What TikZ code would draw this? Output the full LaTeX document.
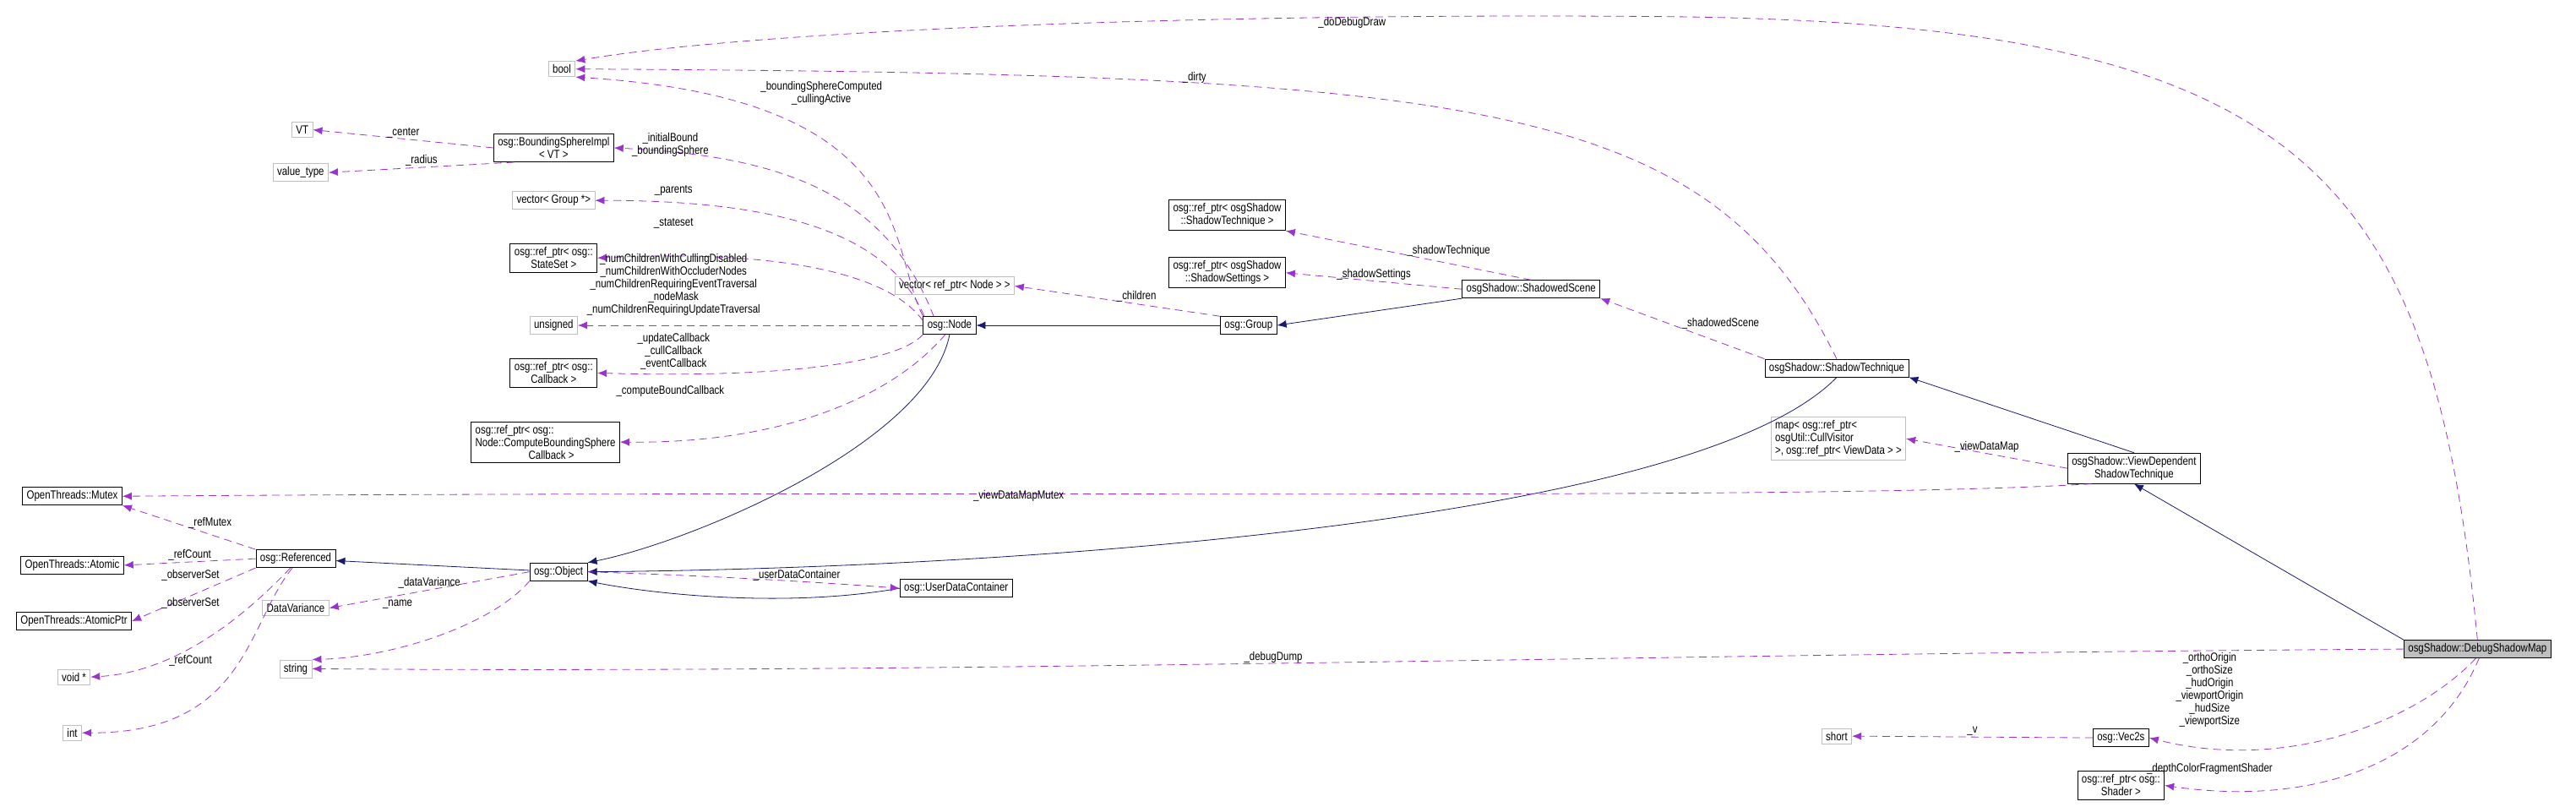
\documentclass[tikz,border=0pt]{standalone}
\usepackage{fontspec}
\setmainfont[FakeStretch=0.82]{Liberation Sans}
\usetikzlibrary{arrows.meta}
\definecolor{dep}{HTML}{9A32CD}
\definecolor{inh}{HTML}{191970}
\definecolor{gb}{HTML}{BFBFBF}
\begin{document}
\begin{tikzpicture}[x=1.945pt,y=-1.945pt,
  box/.style={draw=black,thick,font=\fontsize{14}{15}\selectfont,inner xsep=5pt,inner ysep=4pt,align=center,fill=white},
  gbox/.style={box,draw=gb},
  lab/.style={font=\fontsize{14}{15}\selectfont,align=center,inner sep=1pt},
  dp/.style={draw=dep,thick,dash pattern=on 9pt off 6pt,-{Latex[length=11pt,width=9pt]}},
  ih/.style={draw=inh,thick,-{Latex[length=11pt,width=9pt]}}]
\useasboundingbox (0,0) rectangle (1568,491);
% nodes
\node[gbox] (bool) at (342,42) {bool};
\node[gbox] (vt) at (184,79) {VT};
\node[gbox] (vtype) at (183,105) {value\_type};
\node[box] (bsi) at (337,90) {osg::BoundingSphereImpl\\< VT >};
\node[gbox] (vg) at (337,122) {vector< Group *>};
\node[box] (ss) at (337,157) {osg::ref\_ptr< osg::\\StateSet >};
\node[gbox] (uns) at (337,198) {unsigned};
\node[box] (cb) at (337,227) {osg::ref\_ptr< osg::\\Callback >};
\node[box,align=left] (cbs) at (332,269) {osg::ref\_ptr< osg::\\Node::ComputeBoundingSphere\\\hspace*{4.5em}Callback >};
\node[box] (mutex) at (44,302) {OpenThreads::Mutex};
\node[box] (atomic) at (44,344) {OpenThreads::Atomic};
\node[box] (aptr) at (45,378) {OpenThreads::AtomicPtr};
\node[gbox] (void) at (45,412) {void *};
\node[gbox] (int) at (44,446) {int};
\node[box] (ref) at (180,340) {osg::Referenced};
\node[gbox] (dv) at (180,370) {DataVariance};
\node[gbox] (str) at (180,407) {string};
\node[box] (obj) at (340,348) {osg::Object};
\node[box] (udc) at (582,358) {osg::UserDataContainer};
\node[box] (node) at (578,198) {osg::Node};
\node[gbox] (vn) at (581,174) {vector< ref\_ptr< Node > >};
\node[box] (grp) at (760,198) {osg::Group};
\node[box] (str1) at (747,131) {osg::ref\_ptr< osgShadow\\::ShadowTechnique >};
\node[box] (sset) at (747,166) {osg::ref\_ptr< osgShadow\\::ShadowSettings >};
\node[box] (ssc) at (932,176) {osgShadow::ShadowedScene};
\node[box] (st) at (1118,224) {osgShadow::ShadowTechnique};
\node[gbox,align=left] (map) at (1119,267) {map< osg::ref\_ptr<\\ osgUtil::CullVisitor\\>, osg::ref\_ptr< ViewData > >};
\node[box] (vd) at (1299,285) {osgShadow::ViewDependent\\ShadowTechnique};
\node[box,fill=gb] (dsm) at (1508,395) {osgShadow::DebugShadowMap};
\node[gbox] (short) at (1118,448) {short};
\node[box] (vec) at (1291,449) {osg::Vec2s};
\node[box] (shd) at (1291,478) {osg::ref\_ptr< osg::\\Shader >};
% inheritance
\draw[ih] (obj) -- (ref);
\draw[ih] (node.south) .. controls (565,270) and (420,330) .. (obj.north east);
\draw[ih] (udc.west) .. controls (480,370) and (400,362) .. (obj.south east);
\draw[ih] (grp) -- (node);
\draw[ih] (ssc.south west) -- (grp.east);
\draw[ih] (st.south) .. controls (1030,320) and (600,346) .. (obj.east);
\draw[ih] (vd.north) -- (st.south east);
\draw[ih] (dsm.north west) -- (vd.south);
% dependencies
\draw[dp] (bsi.west) -- node[lab,above]{\_center} (vt.east);
\draw[dp] (bsi.200) -- node[lab,above]{\_radius} (vtype.east);
\draw[dp] (node.north west) .. controls (540,150) and (560,60) .. (bool.south east);
\node[lab] (l1) at (500,57) {\_boundingSphereComputed\\\_cullingActive};
\draw[dp] (node.150) .. controls (540,120) and (480,95) .. (bsi.east);
\node[lab] (l2) at (408,88) {\_initialBound\\\_boundingSphere};
\draw[dp] (node.160) .. controls (540,140) and (470,122) .. (vg.east);
\node[lab] (l3) at (410,116) {\_parents};
\draw[dp] (node.170) .. controls (540,165) and (470,152) .. (ss.east);
\node[lab] (l4) at (410,136) {\_stateset};
\draw[dp] (node.west) -- (uns.east);
\node[lab] (l5) at (410,173) {\_numChildrenWithCullingDisabled\\\_numChildrenWithOccluderNodes\\\_numChildrenRequiringEventTraversal\\\_nodeMask\\\_numChildrenRequiringUpdateTraversal};
\draw[dp] (node.south west) .. controls (545,222) and (470,230) .. (cb.east);
\node[lab] (l6) at (410,214) {\_updateCallback\\\_cullCallback\\\_eventCallback};
\draw[dp] (node.-115) .. controls (540,245) and (470,270) .. (cbs.east);
\node[lab] (l7) at (408,238) {\_computeBoundCallback};
\draw[dp] (grp.north west) -- node[lab,above right=-2pt]{\_children} (vn.east);
\draw[dp] (ssc.north) -- node[lab,above right=-3pt]{\_shadowTechnique} (str1.south east);
\draw[dp] (ssc.west) -- node[lab,above]{\_shadowSettings} (sset.east);
\draw[dp] (st.north west) -- node[lab,above right=-2pt]{\_shadowedScene} (ssc.south east);
\draw[dp] (st.north) .. controls (1040,60) and (900,45) .. (bool.east);
\node[lab] (l8) at (727,47) {\_dirty};
\draw[dp] (dsm.north) .. controls (1480,100) and (1400,12) .. (1000,10) .. controls (700,8) and (450,20) .. (bool.north east);
\node[lab] (l9) at (823,14) {\_doDebugDraw};
\draw[dp] (vd.west) -- node[lab,above]{\_viewDataMap} (map.east);
\draw[dp] (vd.200) .. controls (1100,305) and (600,298) .. (mutex.east);
\node[lab] (l10) at (620,302) {\_viewDataMapMutex};
\draw[dp] (ref.north west) -- node[lab,above right=-2pt]{\_refMutex} (mutex.south east);
\draw[dp] (ref.west) -- node[lab,above]{\_refCount} (atomic.east);
\draw[dp] (ref.south west) -- (aptr.east);
\node[lab] (l11) at (116,350) {\_observerSet};
\draw[dp] (ref.-120) .. controls (130,395) and (90,410) .. (void.east);
\node[lab] (l12) at (116,367) {\_observerSet};
\draw[dp] (ref.-110) .. controls (150,380) and (150,446) .. (int.east);
\node[lab] (l13) at (116,402) {\_refCount};
\draw[dp] (obj.west) -- node[lab,above]{\_dataVariance} (dv.east);
\draw[dp] (obj.south west) .. controls (300,380) and (240,400) .. (str.north east);
\node[lab] (l14) at (242,368) {\_name};
\draw[dp] (obj.east) .. controls (420,350) and (480,353) .. (udc.west);
\node[lab] (l15) at (485,350) {\_userDataContainer};
\draw[dp] (dsm.west) .. controls (1000,398) and (600,410) .. (str.east);
\node[lab] (l16) at (775,400) {\_debugDump};
\draw[dp] (dsm.-100) .. controls (1470,440) and (1390,470) .. (vec.east);
\node[lab] (l17) at (1345,420) {\_orthoOrigin\\\_orthoSize\\\_hudOrigin\\\_viewportOrigin\\\_hudSize\\\_viewportSize};
\draw[dp] (dsm.-80) .. controls (1480,470) and (1400,490) .. (shd.east);
\node[lab] (l18) at (1345,468) {\_depthColorFragmentShader};
\draw[dp] (vec.west) -- node[lab,above]{\_v} (short.east);
\end{tikzpicture}
\end{document}
